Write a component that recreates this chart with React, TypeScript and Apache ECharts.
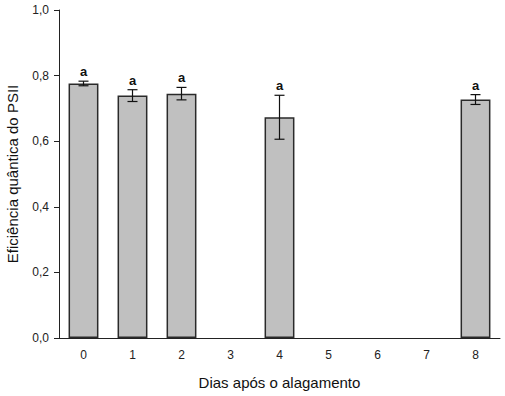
import React, { useEffect, useRef } from "react";
import * as echarts from "echarts";

const categories = ["0", "1", "2", "3", "4", "5", "6", "7", "8"];
const means: (number | null)[] = [0.776, 0.739, 0.745, null, 0.673, null, null, null, 0.727];
const errors: (number | null)[] = [0.007, 0.018, 0.019, null, 0.067, null, null, null, 0.015];
const letters: (string | null)[] = ["a", "a", "a", null, "a", null, null, null, "a"];
const yTicks = ["0,0", "0,2", "0,4", "0,6", "0,8", "1,0"];

export default function App() {
  const ref = useRef<HTMLDivElement>(null);
  useEffect(() => {
    if (!ref.current) return;
    const chart = echarts.init(ref.current, null, { renderer: "svg" });
    const errData = categories.map((_, i) => [i, means[i], errors[i], letters[i]]).filter((d) => d[1] != null);
    chart.setOption({
      animation: false,
      grid: { left: 59, right: 5, top: 10, bottom: 58, outerBoundsMode: "none", containLabel: false },
      xAxis: {
        type: "category",
        data: categories,
        boundaryGap: true,
        name: "Dias após o alagamento",
        nameLocation: "middle",
        nameGap: 37,
        nameTextStyle: { fontFamily: "Liberation Sans", fontSize: 15, color: "#111" },
        axisLine: { lineStyle: { color: "#222", width: 1 } },
        axisTick: { alignWithLabel: true, length: 5, lineStyle: { color: "#222" } },
        axisLabel: { fontFamily: "Liberation Sans", fontSize: 12, color: "#222", margin: 11 },
      },
      yAxis: {
        type: "value",
        min: 0,
        max: 1,
        interval: 0.2,
        name: "Eficiência quântica do PSII",
        nameLocation: "middle",
        nameGap: 39,
        nameTextStyle: { fontFamily: "Liberation Sans", fontSize: 15, color: "#111" },
        axisLine: { show: true, lineStyle: { color: "#222", width: 1 } },
        axisTick: { show: true, length: 5, lineStyle: { color: "#222" } },
        splitLine: { show: false },
        axisLabel: {
          fontFamily: "Liberation Sans",
          fontSize: 12,
          color: "#222",
          margin: 10,
          formatter: (v: number) => yTicks[Math.round(v * 5)] ?? "",
        },
      },
      series: [
        {
          type: "bar",
          data: means.map((v) => (v == null ? "-" : v)),
          barWidth: "61%",
          itemStyle: { color: "#c0c0c0", borderColor: "#2a2a2a", borderWidth: 1.5 },
        },
        {
          type: "custom",
          data: errData,
          z: 10,
          renderItem: (params: any, api: any) => {
            const x = api.value(0);
            const m = api.value(1);
            const e = api.value(2);
            const lbl = errData[params.dataIndex][3] as string;
            const pTop = api.coord([x, m + e]);
            const pBot = api.coord([x, m - e]);
            const cap = 5;
            const st = { stroke: "#111", lineWidth: 1.2 };
            return {
              type: "group",
              children: [
                { type: "line", shape: { x1: pTop[0], y1: pTop[1], x2: pBot[0], y2: pBot[1] }, style: st },
                { type: "line", shape: { x1: pTop[0] - cap, y1: pTop[1], x2: pTop[0] + cap, y2: pTop[1] }, style: st },
                { type: "line", shape: { x1: pBot[0] - cap, y1: pBot[1], x2: pBot[0] + cap, y2: pBot[1] }, style: st },
                {
                  type: "text",
                  x: pTop[0],
                  y: pTop[1] - 3,
                  style: {
                    text: lbl,
                    fontFamily: "Liberation Sans",
                    fontSize: 13,
                    fontWeight: "bold",
                    fill: "#111",
                    textAlign: "center",
                    textVerticalAlign: "bottom",
                  },
                },
              ],
            };
          },
        },
      ],
    });
    return () => chart.dispose();
  }, []);
  return <div ref={ref} style={{ width: 505, height: 396, position: "absolute", left: 0, top: 0 }} />;
}
